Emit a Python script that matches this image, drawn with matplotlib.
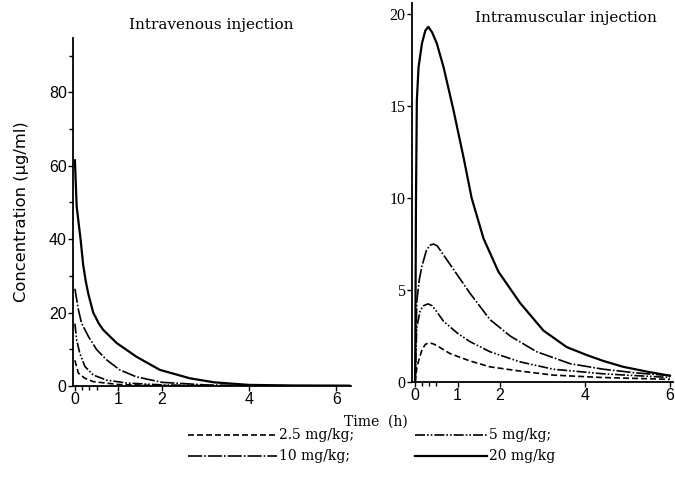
import matplotlib
matplotlib.use("Agg")
import matplotlib.pyplot as plt
from matplotlib.lines import Line2D

# intravenous injection (time h, concentration ug/ml)
iv_t_20 = [0, 0.04, 0.13, 0.19, 0.25, 0.31, 0.42, 0.55, 0.65, 0.96, 1.41, 1.95, 2.64, 3.2, 4.0, 5.0, 6.3]
iv_c_20 = [61.5, 49, 40, 33, 28.5, 25, 20, 17, 15.3, 11.7, 8, 4.4, 2.1, 1.0, 0.3, 0.15, 0.1]
iv_t_10 = [0, 0.08, 0.15, 0.31, 0.5, 0.73, 1.03, 1.41, 2.0, 3.0, 4.0]
iv_c_10 = [26.5, 20.8, 17.2, 13.5, 9.9, 7.1, 4.4, 2.5, 1.0, 0.3, 0.1]
iv_t_5 = [0, 0.04, 0.11, 0.23, 0.42, 0.73, 1.2, 2.0, 3.0]
iv_c_5 = [17, 12.6, 9, 5.3, 3, 1.6, 0.8, 0.3, 0.1]
iv_t_25 = [0, 0.08, 0.23, 0.42, 1.0, 2.0, 3.0]
iv_c_25 = [7, 3.5, 2.1, 1.2, 0.4, 0.1, 0.05]

# intramuscular injection
im_t_20 = [0, 0.02, 0.04, 0.08, 0.16, 0.24, 0.31, 0.4, 0.51, 0.67, 0.9, 1.14, 1.33, 1.61,
           1.96, 2.47, 3.02, 3.57, 4.04, 4.43, 4.9, 5.5, 6.0]
im_c_20 = [0, 10, 15.3, 17.1, 18.4, 19.1, 19.3, 19.0, 18.4, 17.1, 14.8, 12.2, 10.0, 7.8,
           6.0, 4.3, 2.8, 1.9, 1.47, 1.15, 0.83, 0.55, 0.35]
im_t_10 = [0, 0.02, 0.04, 0.1, 0.16, 0.27, 0.36, 0.43, 0.52, 0.7, 1.0, 1.3, 1.76, 2.24,
           2.86, 3.65, 4.43, 5.2, 6.0]
im_c_10 = [0, 2.5, 4.4, 5.6, 6.3, 7.2, 7.45, 7.5, 7.4, 6.8, 5.8, 4.8, 3.4, 2.5,
           1.65, 1.0, 0.7, 0.5, 0.35]
im_t_5 = [0, 0.02, 0.04, 0.12, 0.2, 0.3, 0.4, 0.5, 0.67, 1.0, 1.29, 1.76, 2.47, 3.25, 4.43, 6.0]
im_c_5 = [0, 1.8, 3.0, 3.9, 4.15, 4.25, 4.15, 3.85, 3.3, 2.65, 2.2, 1.65, 1.1, 0.7, 0.45, 0.25]
im_t_25 = [0, 0.04, 0.1, 0.16, 0.24, 0.31, 0.4, 0.5, 0.82, 1.29, 1.76, 2.47, 3.25, 4.4, 6.0]
im_c_25 = [0, 0.8, 1.3, 1.75, 2.05, 2.12, 2.1, 2.0, 1.55, 1.15, 0.83, 0.6, 0.38, 0.25, 0.15]

doses = ["2.5 mg/kg;", "5 mg/kg;", "10 mg/kg;", "20 mg/kg"]
styles = [(0, (3.6, 1.8)), (0, (6, 1.2, 1, 1.2, 1, 1.2)), (0, (8.5, 1.2, 1, 1.2)), "-"]
widths = [1.2, 1.2, 1.2, 1.6]

iv = [(iv_t_25, iv_c_25), (iv_t_5, iv_c_5), (iv_t_10, iv_c_10), (iv_t_20, iv_c_20)]
im = [(im_t_25, im_c_25), (im_t_5, im_c_5), (im_t_10, im_c_10), (im_t_20, im_c_20)]

fig = plt.figure(figsize=(6.75, 4.88), dpi=100)
ax1 = fig.add_axes([0.108, 0.209, 0.412, 0.713])
ax2 = fig.add_axes([0.610, 0.217, 0.387, 0.777])

for ax, data in ((ax1, iv), (ax2, im)):
    for (t, c), ls, lw in zip(data, styles, widths):
        ax.plot(t, c, color="black", linestyle=ls, linewidth=lw)
    for s in ("top", "right"):
        ax.spines[s].set_visible(False)
    for s in ("left", "bottom"):
        ax.spines[s].set_linewidth(1.3)
    ax.set_xticks([0, 1, 2, 4, 6])
    ax.set_xticks([1 / 6, 1 / 3, 0.5], minor=True)
    ax.tick_params(which="both", direction="out", length=3.5, width=1, pad=1)
    ax.tick_params(which="minor", length=3)

ax1.set_xlim(-0.046, 6.34)
ax1.set_ylim(0, 94.8)
ax1.set_yticks([0, 20, 40, 60, 80])
ax1.set_yticks([10, 30, 50, 70, 90], minor=True)
for lab in ax1.get_xticklabels() + ax1.get_yticklabels():
    lab.set_fontfamily("Liberation Sans")
    lab.set_fontsize(11.5)
ax1.set_ylabel("Concentration (μg/ml)", fontfamily="DejaVu Sans", fontsize=11.8, labelpad=14)
ax1.text(0.496, 1.037, "Intravenous injection", transform=ax1.transAxes,
         ha="center", va="center", fontfamily="DejaVu Serif", fontsize=11)

ax2.set_xlim(-0.08, 6.07)
ax2.set_ylim(0, 20.6)
ax2.set_yticks([0, 5, 10, 15, 20])
for lab in ax2.get_yticklabels():
    lab.set_fontfamily("Liberation Serif")
    lab.set_fontsize(11.5)
for lab in ax2.get_xticklabels():
    lab.set_fontfamily("Liberation Sans")
    lab.set_fontsize(11.5)
ax2.text(0.59, 0.96, "Intramuscular injection", transform=ax2.transAxes,
         ha="center", va="center", fontfamily="DejaVu Serif", fontsize=11)

fig.text(0.557, 0.135, "Time  (h)", ha="center", va="center",
         fontfamily="DejaVu Serif", fontsize=10)

handles = [Line2D([], [], color="black", linestyle=ls, linewidth=lw)
           for ls, lw in zip(styles, widths)]
leg_kw = dict(loc="upper left", frameon=False, handletextpad=0.15,
              labelspacing=0.5, borderpad=0, borderaxespad=0,
              prop={"family": "DejaVu Serif", "size": 10})
fig.legend([handles[0], handles[2]], [doses[0], doses[2]],
           bbox_to_anchor=(0.2785, 0.122), handlelength=6.4, **leg_kw)
fig.legend([handles[1], handles[3]], [doses[1], doses[3]],
           bbox_to_anchor=(0.615, 0.122), handlelength=5.2, **leg_kw)

fig.savefig("out.png", dpi=100)
